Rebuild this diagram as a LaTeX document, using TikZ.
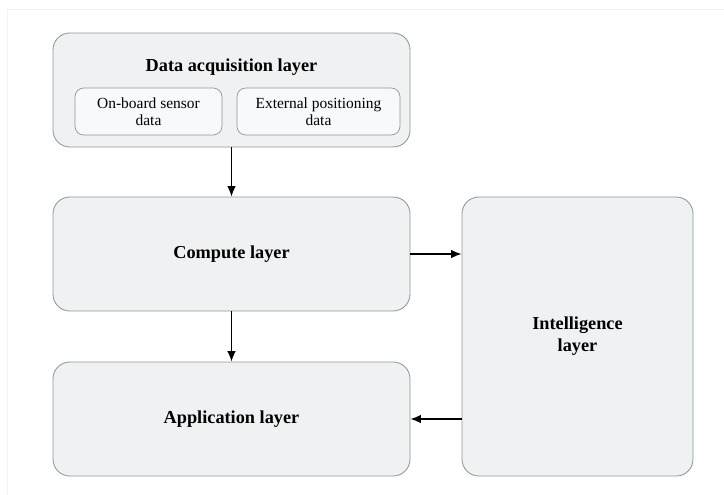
\documentclass[tikz,border=0pt]{standalone}
\usepackage{fontspec}
\setmainfont{Liberation Serif}
\usepackage{tikz}
\usetikzlibrary{arrows.meta,positioning}

\definecolor{layerfill}{HTML}{EFF1F3}
\definecolor{layerline}{HTML}{8C979C}

\tikzset{
  layer/.style={draw=layerline, fill=layerfill, rounded corners=0.42cm, line width=0.6pt,
    align=center, font=\fontsize{13}{15.5}\selectfont\bfseries},
  srcbox/.style={draw=layerline, fill=white!55!layerfill, rounded corners=0.22cm, line width=0.5pt,
    minimum width=3.675cm, minimum height=1.175cm, align=center, font=\fontsize{11}{12.5}\selectfont},
  link/.style={-{Latex[length=2.6mm,width=2.1mm]}, line width=0.9pt, black}
}

\begin{document}
\begin{tikzpicture}
\useasboundingbox (0,0) rectangle (18.1,-12.35);
% faint frame of the original screenshot
\draw[black!5, line width=0.6pt] (0.175,-0.225) rectangle (18.4,-12.6);

\node[layer, minimum width=8.925cm, minimum height=2.85cm] (acq) at (5.7875,-2.25) {};
\node[font=\fontsize{13}{15.5}\selectfont\bfseries] (acqtitle) at (5.7875,-1.69) {Data acquisition layer};
\node[srcbox] (onboard) at (3.7125,-2.7875) {On-board sensor\\data};
\node[srcbox, minimum width=4.075cm] (external) at (7.9625,-2.7875) {External positioning\\data};

\node[layer, minimum width=8.925cm, minimum height=2.85cm] (compute) at (5.7875,-6.35) {Compute layer};
\node[layer, minimum width=8.925cm, minimum height=2.85cm] (app) at (5.7875,-10.475) {Application layer};
\node[layer, minimum width=5.775cm, minimum height=6.975cm] (intel) at (14.4375,-8.4125) {Intelligence\\layer};

\draw[link] (acq) -- (compute);
\draw[link] (compute) -- (app);
\draw[link] (compute.east) -- (compute.east -| intel.west);
\draw[link] (app.east -| intel.west) -- (app.east);
\end{tikzpicture}
\end{document}
